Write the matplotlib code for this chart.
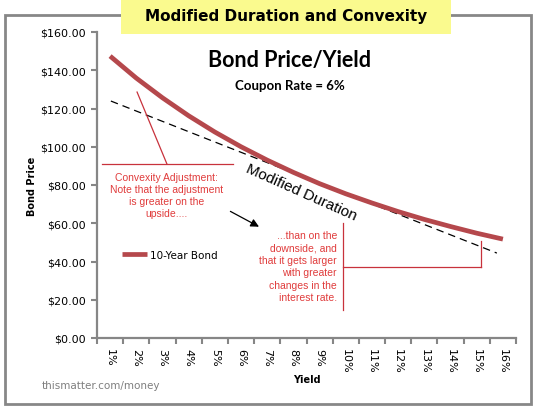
import matplotlib
matplotlib.use("Agg")
import matplotlib.pyplot as plt
from matplotlib.patches import Rectangle
from matplotlib.ticker import FixedLocator, NullFormatter

# ---- data ----
yield_labels = ["1%", "2%", "3%", "4%", "5%", "6%", "7%", "8%", "9%", "10%",
                "11%", "12%", "13%", "14%", "15%", "16%"]
yield_pos = list(range(1, 17))
bond_price = [147.4, 135.9, 125.6, 116.2, 107.7, 100.0, 93.0, 86.6, 80.7, 75.4,
              70.6, 66.1, 62.0, 58.3, 54.8, 51.7]
duration_x = [1.03, 15.77]
duration_y = [123.9, 44.4]
y_ticks = [0, 20, 40, 60, 80, 100, 120, 140, 160]

W, H = 536, 410
fig = plt.figure(figsize=(W / 100, H / 100), dpi=100)
fig.patch.set_facecolor("white")

def fx(px):
    return px / W

def fy(py):
    return 1 - py / H

# outer border
fig.patches.append(Rectangle((fx(5), fy(405)), fx(531) - fx(5), fy(16) - fy(405),
                             transform=fig.transFigure, fill=False,
                             edgecolor="#878787", lw=2, zorder=0))
# title box
fig.patches.append(Rectangle((fx(121), fy(35)), fx(451) - fx(121), fy(0) - fy(35),
                             transform=fig.transFigure, facecolor="#fafa8e",
                             edgecolor="none", zorder=1))
fig.text(fx(286), fy(17), "Modified Duration and Convexity", ha="center", va="center",
         fontsize=11, fontweight="bold", family="DejaVu Sans", color="black", zorder=2)

ax = fig.add_axes([fx(97), fy(339), fx(516) - fx(97), fy(33) - fy(339)])
ax.set_xlim(0.5, 16.5)
ax.set_ylim(0, 160)
for s in ["top", "right"]:
    ax.spines[s].set_visible(False)
for s in ["left", "bottom"]:
    ax.spines[s].set_color("#868686")
    ax.spines[s].set_linewidth(1.6)

ax.xaxis.set_major_locator(FixedLocator([p - 0.5 for p in yield_pos] + [16.5]))
ax.xaxis.set_major_formatter(NullFormatter())
ax.set_xticks(yield_pos, minor=True)
ax.set_xticklabels(yield_labels, minor=True, rotation=270, fontsize=8,
                   family="DejaVu Sans")
ax.tick_params(axis="x", which="major", direction="out", length=4, width=1.5,
               color="#868686")
ax.tick_params(axis="x", which="minor", length=0, pad=7)

ax.set_yticks(y_ticks)
ax.set_yticklabels(["${:.2f}".format(v) for v in y_ticks], fontsize=8,
                   family="DejaVu Sans")
ax.tick_params(axis="y", direction="out", length=4, width=1.5, color="#868686", pad=4)

ax.set_xlabel("Yield", fontsize=7, fontweight="bold")
ax.set_ylabel("Bond Price", fontsize=7, fontweight="bold")
ax.xaxis.set_label_coords(0.5, -0.118)
ax.yaxis.set_label_coords(-0.143, 0.5)

ax.plot(yield_pos, bond_price, color="#b5484c", lw=3.4, solid_capstyle="butt",
        label="10-Year Bond", zorder=3)
ax.plot(duration_x, duration_y, color="black", lw=0.9, dashes=(6, 4), zorder=2)

leg = ax.legend(loc="center left", bbox_to_anchor=(0.06, 0.271), frameon=False,
                borderaxespad=0, borderpad=0, handlelength=2.4, handletextpad=0.3,
                prop={"size": 7.5, "family": "DejaVu Sans"})

# titles inside chart
fig.text(fx(290), fy(61), "Bond Price/Yield", ha="center", va="center",
         fontsize=15.5, fontweight="bold", family="Lato")
fig.text(fx(290), fy(86), "Coupon Rate = 6%", ha="center", va="center",
         fontsize=9.5, fontweight="bold", family="Lato")

red_line = "#c8323c"
red_text = "#e03c3c"
# Modified Duration label
ax.text(8.3, 76.5, "Modified Duration", rotation=-24, rotation_mode="anchor",
        ha="center", va="center", fontsize=11, family="Liberation Sans", color="black")

# convexity annotation 1
ax.plot([2.03, 3.17], [128.6, 91.0], color=red_line, lw=0.9, clip_on=False)
ax.plot([0.69, 5.69], [91.0, 91.0], color=red_line, lw=0.9, clip_on=False)
ax.text(3.17, 74.8, "Convexity Adjustment:\nNote that the adjustment\nis greater on the\nupside....",
        ha="center", va="center", fontsize=7.5, family="Liberation Sans",
        color=red_text, linespacing=1.25)

# annotation 2
ax.plot([9.89, 9.89], [60.1, 14.6], color=red_line, lw=0.9, clip_on=False)
ax.plot([9.89, 15.16], [37.1, 37.1], color=red_line, lw=0.9, clip_on=False)
ax.plot([15.16, 15.16], [37.1, 50.7], color=red_line, lw=0.9, clip_on=False)
ax.text(9.66, 37.6, "...than on the\ndownside, and\nthat it gets larger\nwith greater\nchanges in the\ninterest rate.",
        ha="right", va="center", fontsize=7.5, family="Liberation Sans",
        color=red_text, linespacing=1.3)

# arrow
ax.annotate("", xy=(6.78, 57.5), xytext=(5.5, 66.9),
            arrowprops=dict(arrowstyle="-|>", color="black", lw=0.9,
                            mutation_scale=12))

fig.text(fx(42), fy(386), "thismatter.com/money", ha="left", va="center",
         fontsize=7.5, family="DejaVu Sans", color="#7f7f7f")

fig.savefig("out.png", dpi=100)
